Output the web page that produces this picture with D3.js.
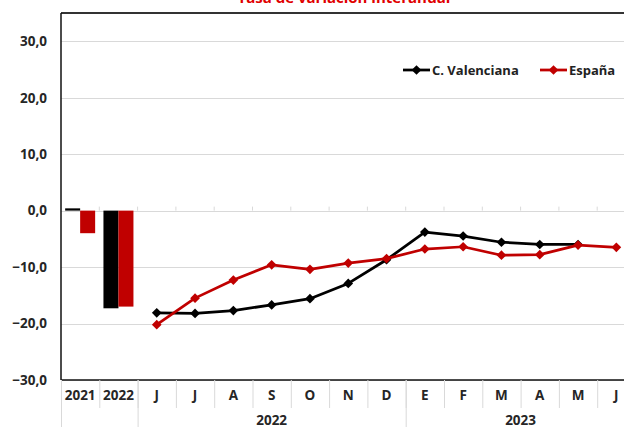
<!DOCTYPE html>
<html>
<head>
<meta charset="utf-8">
<script src="https://cdn.jsdelivr.net/npm/d3@7"></script>
<style>
  body { margin: 0; background: #fff; }
  svg { display: block; font-family: "Open Sans", "Liberation Sans", sans-serif; }
</style>
</head>
<body>
<script>
// categories along the x axis (two annual bars + monthly points)
var categories = ["2021", "2022", "J", "J", "A", "S", "O", "N", "D", "E", "F", "M", "A", "M", "J"];
var annualCats = ["2021", "2022"];
var annualValenciana = [0.4, -17.3];
var annualEspana = [-4.0, -17.0];
// monthly series, starting at the first "J" (index 2)
var monthlyValenciana = [-18.1, -18.2, -17.7, -16.7, -15.6, -12.9, -8.7, -3.8, -4.5, -5.6, -6.0, -6.0];
var monthlyEspana = [-20.2, -15.5, -12.3, -9.6, -10.4, -9.3, -8.5, -6.8, -6.4, -7.9, -7.8, -6.1, -6.5];
var groupLabels = ["", "2022", "2023"];
var groupStart = [0, 2, 9];
var groupEnd = [1, 8, 14];
var yTicks = [-30, -20, -10, 0, 10, 20, 30];
var seriesNames = ["C. Valenciana", "España"];

var width = 624, height = 427;
var plotLeft = 61, plotTop = 13, plotBottom = 380;
var step = 38.3;
var colorV = "#000000", colorE = "#c00000";
var textColor = "#262626";

var svg = d3.select("body").append("svg")
  .attr("width", width)
  .attr("height", height);

var x = d3.scaleBand()
  .domain(d3.range(categories.length))
  .range([plotLeft, plotLeft + step * categories.length])
  .padding(0);

var y = d3.scaleLinear()
  .domain([-30, 35])
  .range([plotBottom, plotTop]);

var fmt = function(d) { return d3.format(".1f")(d).replace(".", ","); };

// title (cut off at top of picture)
svg.append("text")
  .attr("x", 344)
  .attr("y", 3)
  .attr("text-anchor", "middle")
  .attr("fill", "#e00000")
  .attr("font-size", 15)
  .attr("font-weight", "bold")
  .text("Tasa de variación interanual");

// gridlines
svg.append("g")
  .selectAll("line")
  .data(yTicks)
  .enter()
  .append("line")
  .attr("x1", plotLeft)
  .attr("x2", width)
  .attr("y1", function(d) { return Math.round(y(d)) + 0.5; })
  .attr("y2", function(d) { return Math.round(y(d)) + 0.5; })
  .attr("stroke", "#d9d9d9")
  .attr("stroke-width", 1);

// small tick marks on the zero line
svg.append("g")
  .selectAll("line")
  .data(d3.range(1, categories.length))
  .enter()
  .append("line")
  .attr("x1", function(i) { return x(i); })
  .attr("x2", function(i) { return x(i); })
  .attr("y1", y(0) - 4)
  .attr("y2", y(0))
  .attr("stroke", "#d9d9d9");

// y axis labels
var yAxis = d3.axisLeft(y)
  .tickValues(yTicks)
  .tickSize(0)
  .tickPadding(14)
  .tickFormat(fmt);

var yg = svg.append("g")
  .attr("transform", "translate(" + plotLeft + ",0)")
  .call(yAxis);
yg.select(".domain").remove();
yg.selectAll("text")
  .attr("font-size", 13.5)
  .attr("font-weight", "bold")
  .attr("fill", textColor)
  .attr("font-family", "Open Sans, sans-serif");

// frame
svg.append("line")
  .attr("x1", plotLeft).attr("x2", width)
  .attr("y1", plotTop).attr("y2", plotTop)
  .attr("stroke", "#333").attr("stroke-width", 2);
svg.append("line")
  .attr("x1", plotLeft).attr("x2", width)
  .attr("y1", plotBottom).attr("y2", plotBottom)
  .attr("stroke", "#111").attr("stroke-width", 1.5);
svg.append("line")
  .attr("x1", plotLeft).attr("x2", plotLeft)
  .attr("y1", plotTop).attr("y2", plotBottom)
  .attr("stroke", "#111").attr("stroke-width", 1.5);

// annual bars
var barW = 15;
var bars = svg.append("g");
annualCats.forEach(function(c, i) {
  var cx = x(i) + x.bandwidth() / 2;
  [[annualValenciana[i], colorV, cx - barW], [annualEspana[i], colorE, cx]].forEach(function(b) {
    bars.append("rect")
      .attr("x", b[2])
      .attr("width", barW)
      .attr("y", Math.min(y(b[0]), y(0)))
      .attr("height", Math.max(2, Math.abs(y(b[0]) - y(0))))
      .attr("fill", b[1]);
  });
});

// monthly lines
var line = d3.line()
  .x(function(d, i) { return x(i + 2) + x.bandwidth() / 2; })
  .y(function(d) { return y(d); });

var diamond = d3.symbol().type(d3.symbolDiamond2).size(60);

[[monthlyValenciana, colorV], [monthlyEspana, colorE]].forEach(function(s) {
  svg.append("path")
    .datum(s[0])
    .attr("d", line)
    .attr("fill", "none")
    .attr("stroke", s[1])
    .attr("stroke-width", 2.75)
    .attr("stroke-linejoin", "round");
  svg.append("g")
    .selectAll("path")
    .data(s[0])
    .enter()
    .append("path")
    .attr("d", diamond)
    .attr("transform", function(d, i) {
      return "translate(" + (x(i + 2) + x.bandwidth() / 2) + "," + y(d) + ")";
    })
    .attr("fill", s[1]);
});

// x axis category labels
var xg = svg.append("g");
xg.selectAll("text")
  .data(categories)
  .enter()
  .append("text")
  .attr("x", function(d, i) { return x(i) + x.bandwidth() / 2; })
  .attr("y", 400)
  .attr("text-anchor", "middle")
  .attr("font-size", 13.5)
  .attr("font-weight", "bold")
  .attr("fill", textColor)
  .text(function(d) { return d; });

// category separators
xg.selectAll("line")
  .data(d3.range(1, categories.length))
  .enter()
  .append("line")
  .attr("x1", function(i) { return x(i) + 0.5; })
  .attr("x2", function(i) { return x(i) + 0.5; })
  .attr("y1", plotBottom)
  .attr("y2", 408)
  .attr("stroke", "#d9d9d9");

// group separators and labels
groupStart.forEach(function(s, g) {
  svg.append("line")
    .attr("x1", x(s) + 0.5).attr("x2", x(s) + 0.5)
    .attr("y1", plotBottom).attr("y2", height)
    .attr("stroke", "#d9d9d9");
  svg.append("text")
    .attr("x", (x(s) + x(groupEnd[g]) + x.bandwidth()) / 2)
    .attr("y", 425)
    .attr("text-anchor", "middle")
    .attr("font-size", 13.5)
    .attr("font-weight", "bold")
    .attr("fill", textColor)
    .text(groupLabels[g]);
});

// legend
var legendX = [403, 540];
var legendColors = [colorV, colorE];
seriesNames.forEach(function(n, i) {
  var lg = svg.append("g").attr("transform", "translate(" + legendX[i] + ",70)");
  lg.append("line")
    .attr("x1", 0).attr("x2", 27)
    .attr("stroke", legendColors[i])
    .attr("stroke-width", 2.75);
  lg.append("path")
    .attr("d", diamond)
    .attr("transform", "translate(13.5,0)")
    .attr("fill", legendColors[i]);
  lg.append("text")
    .attr("x", 29)
    .attr("y", 5)
    .attr("font-size", 13)
    .attr("font-weight", "bold")
    .attr("fill", "#222")
    .text(n);
});
</script>
</body>
</html>
